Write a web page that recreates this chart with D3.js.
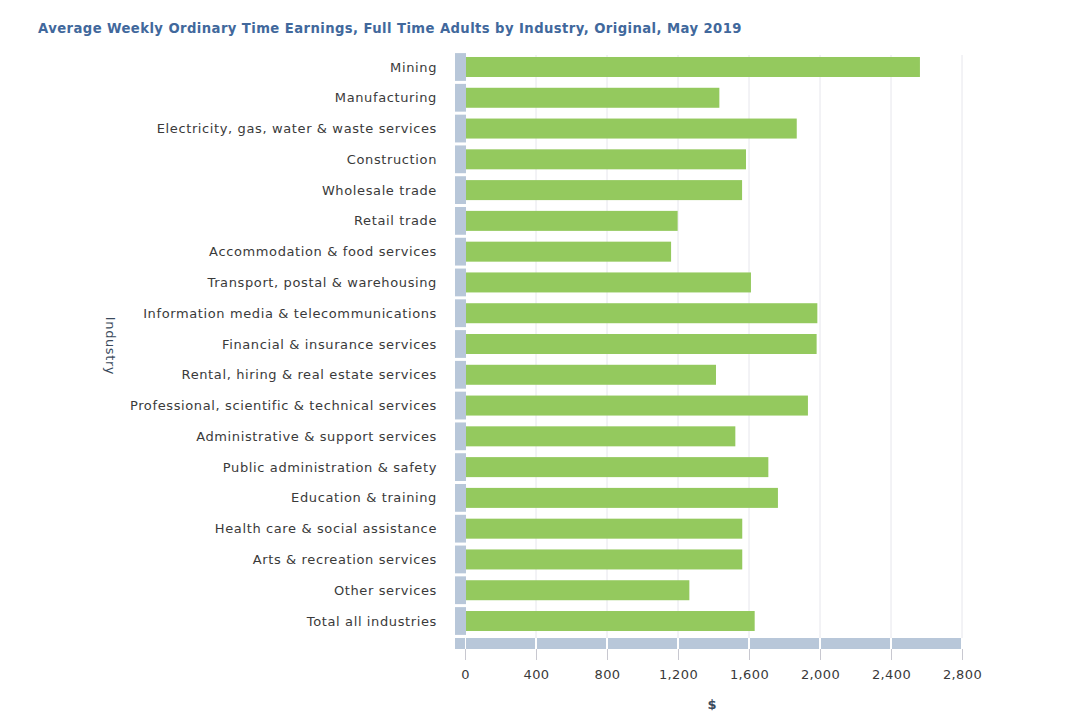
<!DOCTYPE html>
<html><head><meta charset="utf-8">
<script src="https://cdn.jsdelivr.net/npm/d3@7"></script>
<style>body{margin:0;background:#fff}</style>
</head><body>
<svg id="c" width="1080" height="726"></svg>
<script>
const categories = ["Mining","Manufacturing","Electricity, gas, water & waste services","Construction","Wholesale trade","Retail trade","Accommodation & food services","Transport, postal & warehousing","Information media & telecommunications","Financial & insurance services","Rental, hiring & real estate services","Professional, scientific & technical services","Administrative & support services","Public administration & safety","Education & training","Health care & social assistance","Arts & recreation services","Other services","Total all industries"];
const values = [2563,1433,1869,1583,1561,1198,1161,1611,1985,1981,1414,1932,1523,1709,1763,1562,1562,1264,1632];
const xTicks = [0,400,800,1200,1600,2000,2400,2800];
const title = "Average Weekly Ordinary Time Earnings, Full Time Adults by Industry, Original, May 2019";

const svg = d3.select("#c");
const font = "Verdana, 'DejaVu Sans', sans-serif";
const x = d3.scaleLinear().domain([0,2800]).range([465,962]);
const y = d3.scaleBand().domain(categories).range([51.6,636.4]).paddingInner(0).paddingOuter(0);

svg.append("text").attr("x",38).attr("y",33).text(title)
  .attr("font-family",font).attr("font-size",13.2).attr("letter-spacing",0.42)
  .attr("font-weight","bold").attr("fill","#41689c");

// grid
svg.append("g").selectAll("line").data(xTicks.slice(1)).join("line")
  .attr("x1",d=>x(d)).attr("x2",d=>x(d)).attr("y1",55).attr("y2",638)
  .attr("stroke","#e6e6ec").attr("stroke-width",1);

// left strip segments
svg.append("g").selectAll("rect").data(categories).join("rect")
  .attr("x",455).attr("width",11)
  .attr("y",d=>y(d)+1.5).attr("height",y.bandwidth()-3)
  .attr("fill","#b8c7d9");

// bottom strip segments
const segs = [[-60,0]].concat(xTicks.slice(0,-1).map((d,i)=>[d,xTicks[i+1]]));
svg.append("g").selectAll("rect").data(segs).join("rect")
  .attr("x",d=>d[0]<0?455:x(d[0])+1).attr("width",d=>d[0]<0?10:x(d[1])-x(d[0])-2)
  .attr("y",638).attr("height",11).attr("fill","#b8c7d9");

// bars
svg.append("g").selectAll("rect").data(categories).join("rect")
  .attr("x",x(0)+1).attr("y",d=>y(d)+(y.bandwidth()-20)/2)
  .attr("width",(d,i)=>x(values[i])-x(0)-1).attr("height",20)
  .attr("fill","#94c95e");

// category labels
svg.append("g").selectAll("text").data(categories).join("text")
  .attr("x",437).attr("y",d=>y(d)+y.bandwidth()/2).attr("dy","0.35em")
  .attr("text-anchor","end").text(d=>d)
  .attr("font-family",font).attr("font-size",13).attr("letter-spacing",0.62).attr("fill","#3a3a3a");

// x axis
const xa = svg.append("g").attr("transform","translate(0,649)")
  .call(d3.axisBottom(x).tickValues(xTicks).tickSize(11).tickPadding(10).tickFormat(d3.format(",")));
xa.select(".domain").remove();
xa.selectAll("line").attr("stroke","#c8c8d0");
xa.selectAll("text").attr("font-family",font).attr("font-size",13).attr("letter-spacing",0.4).attr("fill","#3a3a3a");

svg.append("text").attr("x",712).attr("y",709).attr("text-anchor","middle").text("$")
  .attr("font-family",font).attr("font-size",13).attr("font-weight","bold").attr("fill","#3a4a5c");

svg.append("text").attr("transform","translate(106,346) rotate(90)").attr("text-anchor","middle").text("Industry")
  .attr("font-family",font).attr("font-size",13).attr("letter-spacing",0.6).attr("fill","#3a4a5c");
</script>
</body></html>
